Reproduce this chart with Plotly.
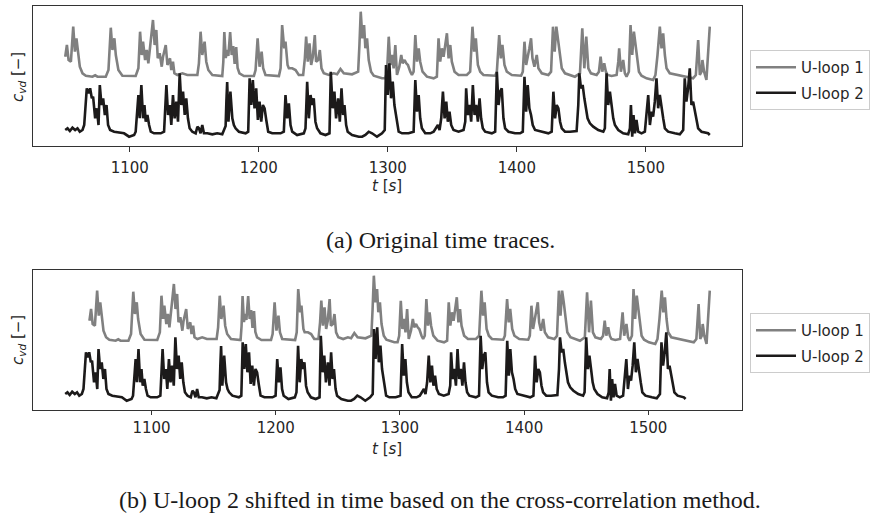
import plotly.graph_objects as go

# ---------------- data ----------------
t_loop1 = [
    1050.0, 1051.3, 1052.6, 1054.4, 1056.2, 1057.5, 1058.7, 1059.8, 1061.3, 1063.4, 1066.0, 1071.1,
    1073.2, 1075.0, 1081.4, 1083.5, 1085.3, 1086.6, 1088.1, 1089.2, 1091.2, 1094.3, 1104.6, 1106.7,
    1108.0, 1109.3, 1110.3, 1111.9, 1113.2, 1114.4, 1116.2, 1118.0, 1119.3, 1120.6, 1121.7, 1123.2,
    1124.8, 1125.8, 1127.9, 1129.2, 1131.2, 1132.2, 1133.5, 1134.6, 1136.9, 1140.8, 1144.6, 1152.4,
    1153.6, 1154.9, 1156.2, 1158.0, 1159.3, 1160.9, 1164.0, 1171.7, 1172.5, 1173.3, 1174.4, 1175.3,
    1176.4, 1177.8, 1179.0, 1180.2, 1181.3, 1182.5, 1183.6, 1185.0, 1188.5, 1196.2, 1197.5, 1199.1,
    1200.6, 1202.2, 1203.4, 1205.2, 1215.6, 1216.9, 1218.1, 1219.7, 1220.7, 1222.3, 1223.3, 1225.9,
    1228.5, 1231.0, 1234.4, 1235.7, 1236.7, 1238.0, 1239.3, 1240.6, 1241.9, 1243.4, 1244.4, 1246.0,
    1247.3, 1248.6, 1250.4, 1254.3, 1258.1, 1260.7, 1263.3, 1265.9, 1272.3, 1277.0, 1278.0, 1279.0,
    1280.3, 1281.6, 1282.6, 1283.9, 1285.2, 1287.0, 1289.1, 1295.5, 1298.1, 1299.4, 1300.7, 1302.0,
    1303.3, 1304.5, 1305.8, 1307.1, 1308.9, 1310.4, 1311.5, 1313.0, 1314.3, 1315.6, 1317.4, 1318.7,
    1320.0, 1321.3, 1322.6, 1323.9, 1325.1, 1326.9, 1330.3, 1335.5, 1338.0, 1339.3, 1340.6, 1341.9,
    1343.2, 1344.5, 1345.8, 1347.1, 1348.4, 1349.6, 1351.7, 1354.8, 1361.2, 1363.8, 1365.6, 1366.9,
    1368.2, 1369.8, 1371.6, 1374.1, 1383.2, 1384.5, 1386.3, 1387.6, 1388.8, 1390.4, 1392.2, 1396.1,
    1403.3, 1404.6, 1405.9, 1407.2, 1408.4, 1409.7, 1411.0, 1412.1, 1413.6, 1415.4, 1416.7, 1419.3,
    1424.4, 1426.5, 1428.0, 1429.3, 1430.6, 1431.9, 1433.2, 1434.8, 1437.3, 1441.2, 1445.0, 1448.9,
    1450.7, 1452.3, 1453.8, 1455.4, 1457.4, 1461.8, 1463.6, 1464.9, 1466.2, 1467.7, 1469.0, 1470.3,
    1473.4, 1477.3, 1478.6, 1479.3, 1480.6, 1482.4, 1483.7, 1485.0, 1486.8, 1488.1, 1489.4, 1490.7,
    1492.0, 1493.3, 1494.6, 1496.6, 1500.5, 1505.6, 1507.4, 1509.0, 1510.8, 1512.1, 1513.4, 1514.7,
    1516.0, 1518.5, 1525.0, 1530.1, 1536.6, 1538.7, 1540.5, 1541.8, 1543.1, 1543.8, 1545.1, 1546.9,
    1548.2, 1549.5,
]
c_loop1 = [
    0.893, 1.010, 0.860, 0.843, 1.193, 0.943, 1.077, 0.977, 0.793, 0.727, 0.703, 0.693,
    0.707, 0.693, 0.693, 0.760, 1.183, 0.960, 1.077, 0.910, 0.760, 0.703, 0.700, 0.777,
    1.143, 0.910, 1.043, 0.860, 0.960, 0.827, 1.043, 1.260, 1.010, 1.160, 0.877, 0.927,
    0.793, 0.893, 1.010, 0.810, 0.877, 0.760, 0.843, 0.727, 0.710, 0.727, 0.710, 0.710,
    0.827, 1.143, 0.910, 1.043, 0.843, 0.760, 0.710, 0.700, 0.840, 1.140, 0.880, 0.960,
    0.900, 1.140, 0.910, 1.000, 0.820, 0.990, 0.780, 0.727, 0.700, 0.700, 0.760, 1.077,
    0.793, 0.943, 0.777, 0.710, 0.700, 0.777, 1.210, 0.977, 1.043, 0.810, 0.777, 0.777,
    0.760, 0.710, 0.710, 0.877, 1.093, 0.843, 1.027, 0.810, 0.893, 1.110, 0.843, 0.860,
    0.960, 0.777, 0.727, 0.710, 0.727, 0.717, 0.770, 0.727, 0.717, 0.743, 1.010, 1.343,
    1.077, 1.210, 0.977, 1.077, 0.860, 0.743, 0.703, 0.677, 0.677, 0.743, 1.093, 0.810,
    0.910, 0.777, 1.010, 0.710, 0.793, 0.910, 0.827, 0.860, 0.827, 0.810, 0.743, 0.710,
    0.743, 1.110, 0.843, 0.977, 0.843, 0.743, 0.693, 0.677, 0.693, 1.077, 0.843, 0.977,
    0.893, 1.043, 1.127, 0.877, 1.010, 0.843, 0.743, 0.710, 0.710, 0.743, 1.193, 0.943,
    1.077, 0.810, 0.743, 0.710, 0.703, 0.743, 1.110, 0.877, 1.010, 0.810, 0.743, 0.710,
    0.703, 0.743, 1.043, 0.810, 0.910, 0.977, 1.077, 0.877, 0.793, 0.910, 0.777, 0.727,
    0.710, 0.743, 1.193, 0.943, 1.193, 1.077, 0.910, 0.777, 0.727, 0.710, 0.693, 0.727,
    1.177, 0.777, 1.093, 0.777, 0.727, 0.710, 0.743, 0.893, 0.743, 0.827, 0.743, 0.710,
    0.700, 0.710, 0.843, 0.977, 0.743, 0.860, 0.727, 0.693, 0.743, 1.210, 0.910, 1.143,
    1.010, 0.877, 0.743, 0.703, 0.677, 0.660, 0.710, 0.910, 1.193, 0.977, 1.127, 0.910,
    0.777, 0.727, 0.710, 0.693, 0.677, 0.710, 1.060, 0.710, 0.743, 0.860, 0.743, 0.660,
    0.977, 1.193,
]

t_loop2 = [
    1050.0, 1051.8, 1053.6, 1055.6, 1057.7, 1059.5, 1061.3, 1063.4, 1064.7, 1066.0, 1066.7, 1068.0,
    1069.3, 1070.6, 1071.6, 1073.2, 1074.5, 1075.8, 1076.8, 1078.1, 1079.4, 1080.7, 1082.0, 1083.2,
    1084.8, 1087.9, 1091.8, 1095.6, 1099.5, 1103.4, 1104.6, 1105.9, 1106.7, 1107.7, 1109.0, 1110.3,
    1111.4, 1112.4, 1113.7, 1115.0, 1116.3, 1118.8, 1124.0, 1126.6, 1128.4, 1129.7, 1131.0, 1132.2,
    1133.5, 1134.8, 1136.1, 1137.4, 1138.7, 1140.0, 1141.3, 1142.6, 1143.8, 1145.1, 1146.4, 1148.5,
    1151.1, 1152.4, 1153.6, 1154.9, 1156.2, 1157.5, 1160.1, 1164.0, 1167.8, 1171.7, 1174.3, 1174.9,
    1175.5, 1176.5, 1178.0, 1179.5, 1180.7, 1182.0, 1184.6, 1189.8, 1191.8, 1192.9, 1194.2, 1195.4,
    1196.7, 1198.0, 1199.3, 1200.6, 1201.9, 1203.2, 1204.5, 1205.8, 1207.3, 1210.4, 1216.9, 1219.4,
    1220.7, 1222.0, 1223.3, 1224.6, 1225.9, 1229.7, 1234.9, 1236.2, 1237.5, 1238.8, 1240.1, 1241.4,
    1242.6, 1243.9, 1245.2, 1247.8, 1251.7, 1254.8, 1255.8, 1257.3, 1258.6, 1259.9, 1261.5, 1262.8,
    1264.1, 1265.3, 1266.4, 1267.7, 1268.9, 1272.3, 1277.5, 1280.1, 1282.6, 1285.2, 1287.8, 1291.6,
    1295.5, 1297.6, 1298.6, 1299.9, 1301.2, 1302.5, 1303.8, 1305.1, 1306.4, 1307.9, 1308.4, 1311.0,
    1316.1, 1320.0, 1321.3, 1322.6, 1323.9, 1325.1, 1326.4, 1329.0, 1332.9, 1335.5, 1337.3, 1338.8,
    1340.1, 1341.4, 1342.7, 1344.0, 1345.3, 1346.5, 1347.8, 1349.1, 1350.9, 1354.8, 1358.7, 1360.0,
    1360.7, 1362.0, 1363.3, 1364.6, 1365.9, 1367.2, 1368.5, 1369.8, 1371.1, 1372.3, 1373.6, 1375.4,
    1380.6, 1383.2, 1384.5, 1385.8, 1387.0, 1388.3, 1389.6, 1390.9, 1393.5, 1398.6, 1402.5, 1404.6,
    1405.9, 1407.2, 1408.4, 1409.7, 1411.0, 1412.3, 1414.1, 1419.3, 1424.4, 1427.0, 1428.3, 1429.6,
    1430.9, 1432.2, 1433.5, 1434.8, 1437.3, 1441.2, 1446.3, 1447.6, 1448.4, 1449.7, 1451.0, 1452.3,
    1453.5, 1454.8, 1456.6, 1459.2, 1463.1, 1467.0, 1468.2, 1469.5, 1470.8, 1472.1, 1473.4, 1474.7,
    1476.0, 1478.6, 1482.4, 1486.3, 1487.6, 1488.4, 1489.4, 1490.4, 1491.5, 1492.7, 1494.0, 1496.6,
    1499.2, 1500.5, 1501.8, 1503.1, 1504.4, 1505.6, 1506.9, 1508.2, 1509.5, 1510.8, 1512.1, 1513.4,
    1514.7, 1517.2, 1522.4, 1526.3, 1528.9, 1530.1, 1531.4, 1532.7, 1534.0, 1535.3, 1536.6, 1537.9,
    1539.2, 1540.5, 1543.1, 1545.6, 1548.2, 1549.5,
]
c_loop2 = [
    0.160, 0.177, 0.150, 0.183, 0.160, 0.177, 0.143, 0.160, 0.210, 0.410, 0.577, 0.527,
    0.577, 0.477, 0.493, 0.277, 0.377, 0.210, 0.610, 0.410, 0.477, 0.310, 0.410, 0.210,
    0.160, 0.143, 0.137, 0.127, 0.093, 0.110, 0.143, 0.410, 0.510, 0.277, 0.610, 0.277,
    0.410, 0.243, 0.310, 0.210, 0.143, 0.127, 0.127, 0.143, 0.610, 0.310, 0.410, 0.210,
    0.510, 0.277, 0.443, 0.243, 0.727, 0.410, 0.543, 0.310, 0.477, 0.277, 0.177, 0.143,
    0.127, 0.193, 0.177, 0.127, 0.210, 0.127, 0.127, 0.117, 0.127, 0.117, 0.200, 0.450,
    0.640, 0.243, 0.543, 0.277, 0.210, 0.177, 0.143, 0.127, 0.143, 0.677, 0.410, 0.660,
    0.377, 0.577, 0.260, 0.443, 0.243, 0.410, 0.377, 0.260, 0.143, 0.127, 0.127, 0.143,
    0.510, 0.277, 0.427, 0.210, 0.143, 0.110, 0.127, 0.177, 0.643, 0.277, 0.510, 0.410,
    0.477, 0.243, 0.177, 0.127, 0.110, 0.127, 0.743, 0.377, 0.543, 0.277, 0.477, 0.243,
    0.577, 0.310, 0.410, 0.210, 0.143, 0.110, 0.093, 0.093, 0.110, 0.143, 0.127, 0.093,
    0.127, 0.160, 0.810, 0.510, 0.827, 0.477, 0.643, 0.410, 0.310, 0.177, 0.143, 0.127,
    0.127, 0.143, 0.660, 0.343, 0.510, 0.277, 0.177, 0.127, 0.127, 0.143, 0.177, 0.210,
    0.160, 0.277, 0.543, 0.277, 0.443, 0.243, 0.343, 0.210, 0.160, 0.143, 0.160, 0.243,
    0.577, 0.310, 0.410, 0.243, 0.610, 0.310, 0.410, 0.243, 0.477, 0.277, 0.177, 0.143,
    0.127, 0.143, 0.743, 0.410, 0.543, 0.577, 0.277, 0.177, 0.143, 0.127, 0.127, 0.143,
    0.693, 0.343, 0.610, 0.377, 0.310, 0.210, 0.160, 0.143, 0.127, 0.143, 0.543, 0.277,
    0.410, 0.377, 0.243, 0.177, 0.143, 0.143, 0.150, 0.410, 0.727, 0.577, 0.610, 0.477,
    0.377, 0.277, 0.227, 0.193, 0.160, 0.143, 0.177, 0.727, 0.410, 0.543, 0.410, 0.277,
    0.210, 0.160, 0.127, 0.117, 0.177, 0.410, 0.093, 0.310, 0.127, 0.260, 0.143, 0.127,
    0.143, 0.310, 0.510, 0.210, 0.343, 0.293, 0.443, 0.677, 0.377, 0.510, 0.377, 0.277,
    0.177, 0.143, 0.127, 0.117, 0.160, 0.677, 0.443, 0.577, 0.777, 0.410, 0.443, 0.343,
    0.243, 0.177, 0.143, 0.133, 0.127, 0.110,
]

shift_s = 19.5  # time shift of U-loop 2 from cross-correlation [s]
x_ticks = [1100, 1200, 1300, 1400, 1500]
series_names = ["U-loop 1", "U-loop 2"]
captions = ["(a) Original time traces.",
            "(b) U-loop 2 shifted in time based on the cross-correlation method."]

# ---------------- styling ----------------
W, H = 870, 516
GRAY = "#808080"
BLACK = "#1c1a1a"
AX = "#333333"
SANS = "DejaVu Sans"
SERIF = "Liberation Serif"

def px_x(p):
    return p / W

def px_y(p):
    return 1 - p / H

t_loop2_shifted = [t - shift_s for t in t_loop2]

fig = go.Figure()
line_w = 2.6
fig.add_trace(go.Scatter(x=t_loop1, y=c_loop1, mode="lines", name=series_names[0],
                         line=dict(color=GRAY, width=line_w), xaxis="x", yaxis="y",
                         legend="legend", legendgroup="a1"))
fig.add_trace(go.Scatter(x=t_loop2, y=c_loop2, mode="lines", name=series_names[1],
                         line=dict(color=BLACK, width=line_w), xaxis="x", yaxis="y",
                         legend="legend", legendgroup="a2"))
fig.add_trace(go.Scatter(x=t_loop1, y=c_loop1, mode="lines", name=series_names[0],
                         line=dict(color=GRAY, width=line_w), xaxis="x2", yaxis="y2",
                         legend="legend2", legendgroup="b1"))
fig.add_trace(go.Scatter(x=t_loop2_shifted, y=c_loop2, mode="lines", name=series_names[1],
                         line=dict(color=BLACK, width=line_w), xaxis="x2", yaxis="y2",
                         legend="legend2", legendgroup="b2"))

def xrange_of(*arrs):
    lo = min(min(a) for a in arrs)
    hi = max(max(a) for a in arrs)
    pad = 0.05 * (hi - lo)
    return [lo - pad, hi + pad]

xr1 = xrange_of(t_loop1, t_loop2)
xr2 = xrange_of(t_loop1, t_loop2_shifted)
yr = [0.0, 1.40]

xaxis_common = dict(showline=True, mirror=True, linecolor=AX, linewidth=1.2,
                    ticks="outside", tickwidth=1, tickcolor=AX,
                    tickvals=x_ticks, showgrid=False, zeroline=False,
                    tickfont=dict(family=SANS, size=15, color="#262626"))
yaxis_common = dict(showline=True, mirror=True, linecolor=AX, linewidth=1.2,
                    ticks="", showticklabels=False, showgrid=False, zeroline=False,
                    range=yr)

dom_x = [px_x(33), px_x(742)]
fig.update_layout(
    width=W, height=H, margin=dict(l=0, r=0, t=0, b=0),
    paper_bgcolor="white", plot_bgcolor="white",
    xaxis=dict(domain=dom_x, range=xr1, anchor="y", ticklen=5, ticklabelstandoff=3,
               **xaxis_common),
    yaxis=dict(domain=[px_y(146), px_y(6)], anchor="x", **yaxis_common),
    xaxis2=dict(domain=dom_x, range=xr2, anchor="y2", ticklen=4, ticklabelstandoff=0,
                **xaxis_common),
    yaxis2=dict(domain=[px_y(410), px_y(270)], anchor="x2", **yaxis_common),
)

legend_common = dict(xanchor="left", yanchor="top", bgcolor="rgba(255,255,255,0.85)",
                     bordercolor="#cccccc", borderwidth=1, itemwidth=40,
                     tracegroupgap=3, font=dict(family=SANS, size=15, color="#262626"))
fig.update_layout(
    legend=dict(x=px_x(750), y=px_y(50), **legend_common),
    legend2=dict(x=px_x(750), y=px_y(313), **legend_common),
)

ann = []
ylabel = "<i>c<sub>vd</sub></i> [−]"
xlabel = "<i>t</i> [<i>s</i>]"
for yc in (77, 340):
    ann.append(dict(text=ylabel, x=px_x(18), y=px_y(yc), xref="paper", yref="paper",
                    textangle=-90, showarrow=False, xanchor="center", yanchor="middle",
                    font=dict(family=SANS, size=15, color="#262626")))
for yc in (186, 449):
    ann.append(dict(text=xlabel, x=px_x(387), y=px_y(yc), xref="paper", yref="paper",
                    showarrow=False, xanchor="center", yanchor="middle",
                    font=dict(family=SANS, size=15, color="#262626")))
for cap, yc in zip(captions, (240, 500)):
    ann.append(dict(text=cap, x=px_x(440), y=px_y(yc), xref="paper", yref="paper",
                    showarrow=False, xanchor="center", yanchor="middle",
                    font=dict(family=SERIF, size=24, color="#1a1a1a")))
fig.update_layout(annotations=ann)

fig.write_html("out.html")
